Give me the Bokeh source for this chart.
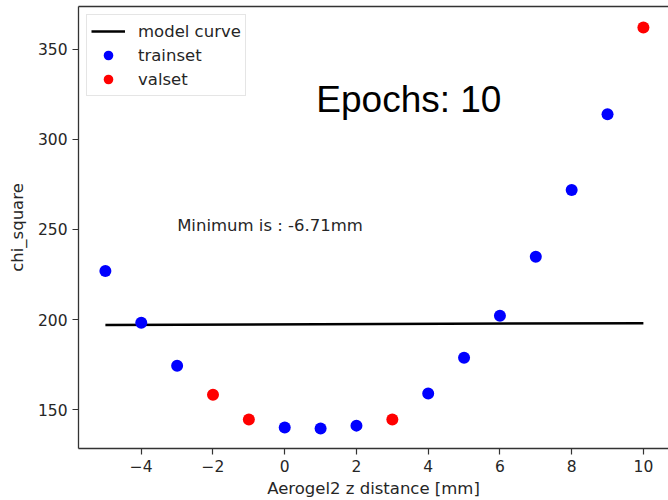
from bokeh.plotting import figure
from bokeh.models import Range1d, LinearAxis, FixedTicker, Label, Legend, LegendItem
from bokeh.embed import file_html
from bokeh.resources import INLINE

# chi-square scan over the Aerogel2 z position
train_x = [-5, -4, -3, 0, 1, 2, 4, 5, 6, 7, 8, 9]
train_chi2 = [227.0, 198.2, 174.4, 140.0, 139.5, 141.1, 158.9, 178.8, 202.1, 234.8, 271.9, 314.0]
val_x = [-2, -1, 3, 10]
val_chi2 = [158.3, 144.5, 144.5, 362.2]
model_x = [-5, 10]
model_chi2 = [197.0, 198.0]
x_ticks = [-4, -2, 0, 2, 4, 6, 8, 10]
y_ticks = [150, 200, 250, 300, 350]

FONT = "DejaVu Sans"
INK = "#262626"

p = figure(width=668, height=500, output_backend="svg", toolbar_location=None,
           x_range=Range1d(-5.75, 10.7), y_range=Range1d(128.4, 373.8),
           min_border_left=78, min_border_right=0, min_border_top=6, min_border_bottom=51)
p.xgrid.visible = False
p.ygrid.visible = False
p.outline_line_color = None
p.background_fill_color = "white"
p.border_fill_color = "white"

for ax in (p.xaxis[0], p.yaxis[0]):
    ax.axis_line_color = "#333333"
    ax.axis_line_width = 1.3
    ax.major_tick_line_color = "#333333"
    ax.major_tick_line_width = 1.2
    ax.major_tick_in = 0
    ax.major_tick_out = 6
    ax.minor_tick_line_color = None
    ax.major_label_text_font = FONT
    ax.major_label_text_font_size = "15.5px"
    ax.major_label_text_color = INK
    ax.major_label_standoff = 5
    ax.axis_label_text_font = FONT
    ax.axis_label_text_font_size = "16.5px"
    ax.axis_label_text_font_style = "normal"
    ax.axis_label_text_color = INK

p.xaxis[0].ticker = FixedTicker(ticks=x_ticks)
p.yaxis[0].ticker = FixedTicker(ticks=y_ticks)
p.xaxis[0].axis_label = "Aerogel2 z distance [mm]"
p.yaxis[0].axis_label = "chi_square"
p.xaxis[0].axis_label_standoff = 4
p.yaxis[0].axis_label_standoff = 8

# top frame edge
top = LinearAxis(ticker=FixedTicker(ticks=[]), axis_line_color="#333333", axis_line_width=1.3,
                 major_label_text_font_size="0px", minor_tick_line_color=None)
p.add_layout(top, "above")

line = p.line(model_x, model_chi2, line_color="black", line_width=2.5)
tr = p.scatter(train_x, train_chi2, size=12, fill_color="#0000ff", line_color=None)
va = p.scatter(val_x, val_chi2, size=12, fill_color="#ff0000", line_color=None)

legend = Legend(items=[LegendItem(label="model curve", renderers=[line]),
                       LegendItem(label="trainset", renderers=[tr]),
                       LegendItem(label="valset", renderers=[va])],
                location="top_left")
legend.label_text_font = FONT
legend.label_text_font_size = "16.5px"
legend.label_text_color = INK
legend.label_standoff = 13
legend.glyph_width = 34
legend.glyph_height = 24
legend.label_height = 24
legend.spacing = 0
legend.padding = 4
legend.margin = 8
legend.border_line_color = "#cccccc"
legend.border_line_width = 1
legend.background_fill_alpha = 0.9
p.add_layout(legend)

p.add_layout(Label(x=0.88, y=322.3, text="Epochs: 10", text_font="Liberation Sans",
                   text_font_size="37px", text_color="black", text_baseline="alphabetic"))
p.add_layout(Label(x=-3.0, y=252.0, text="Minimum is : -6.71mm", text_font=FONT,
                   text_font_size="16.5px", text_color=INK, text_baseline="alphabetic"))

open("out.html", "w").write(file_html(p, INLINE))
